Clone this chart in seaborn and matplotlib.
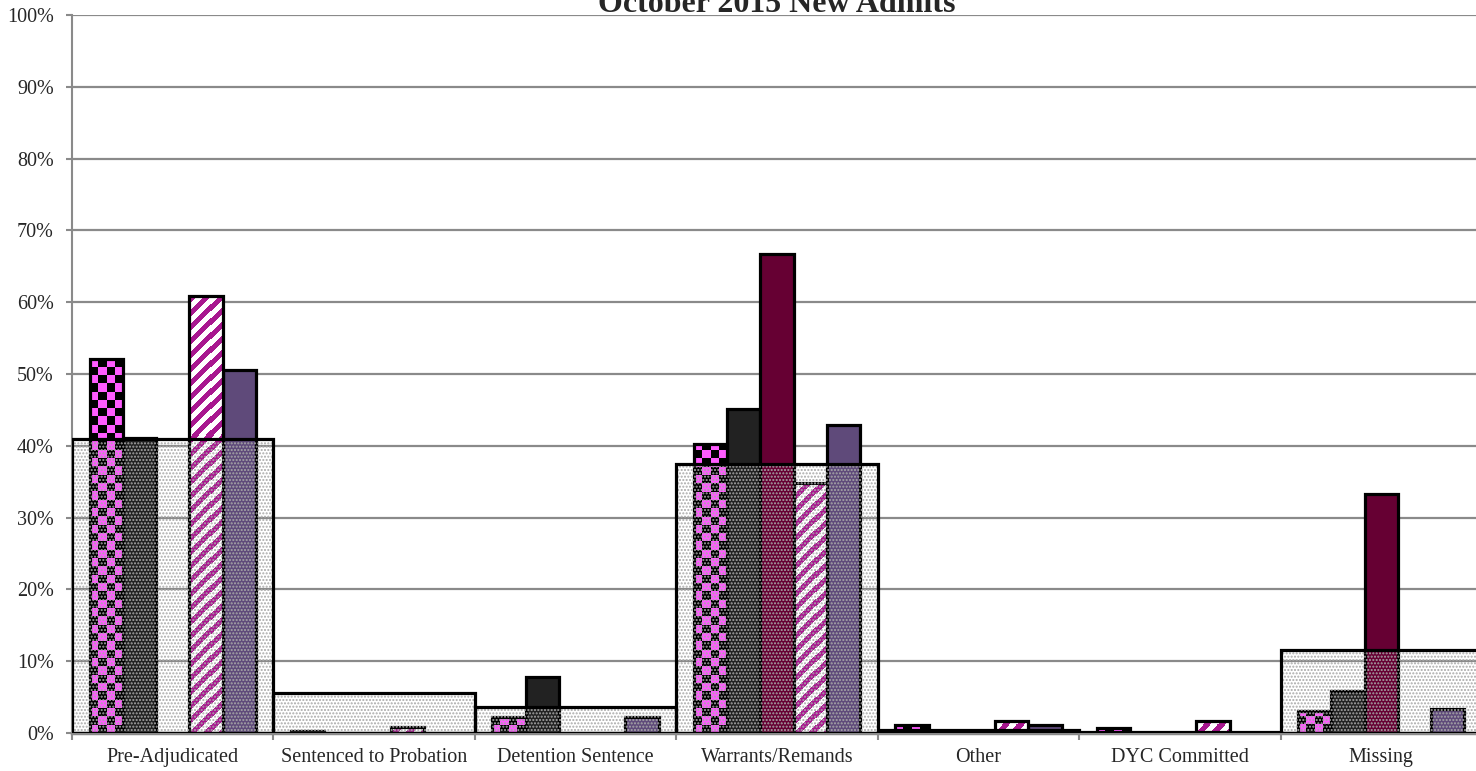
import numpy as np
import pandas as pd
import matplotlib
matplotlib.use("Agg")
import matplotlib.pyplot as plt
from matplotlib.colors import ListedColormap
import seaborn as sns

# data (percent of new admits)
categories = ["Pre-Adjudicated", "Sentenced to Probation", "Detention Sentence",
              "Warrants/Remands", "Other", "DYC Committed", "Missing"]
total = [41.0, 5.6, 3.6, 37.4, 0.4, 0.2, 11.6]
series_names = ["Group 1", "Group 2", "Group 3", "Group 4", "Group 5"]
group1 = [52.1, 0.3, 2.2, 40.3, 1.1, 0.7, 3.1]
group2 = [41.1, 0.0, 7.8, 45.1, 0.0, 0.0, 5.9]
group3 = [0.0, 0.0, 0.0, 66.7, 0.0, 0.0, 33.3]
group4 = [60.9, 0.9, 0.0, 34.8, 1.7, 1.7, 0.0]
group5 = [50.6, 0.0, 2.2, 42.9, 1.1, 0.0, 3.3]

sns.set_style("white")
plt.rcParams["font.family"] = ["Liberation Serif", "DejaVu Serif"]

df = pd.DataFrame({
    "category": categories * 5,
    "series": np.repeat(series_names, len(categories)),
    "value": group1 + group2 + group3 + group4 + group5,
})

fig = plt.figure(figsize=(14.76, 7.71), dpi=100)
ax = fig.add_axes([72 / 1476, 38 / 771, 1410 / 1476, 718 / 771])

palette = ["#ff5cff", "#222222", "#660033", "#ffffff", "#5f4a7a"]
sns.barplot(data=df, x="category", y="value", hue="series", palette=palette,
            saturation=1, width=0.825, errorbar=None, edgecolor="black",
            linewidth=2.3, legend=False, ax=ax, zorder=2)
# total bars: dotted overlay + outline on top of the groups
sns.barplot(x=categories, y=total, width=1.0, color="#9a9a9a", saturation=1,
            errorbar=None, ax=ax, zorder=3)
sns.barplot(x=categories, y=total, width=1.0, color="black", saturation=1,
            errorbar=None, ax=ax, zorder=3.1)

ax.set_xlim(-0.5, len(categories) - 0.5)
ax.set_ylim(0, 100)

for cont in ax.containers[:5]:
    for p in cont:
        if p.get_height() <= 0:
            p.set_visible(False)

for p in ax.containers[5]:
    p.set_facecolor("none")
    p.set_edgecolor("#a8a8a8")
    p.set_linewidth(0)
    p.set_hatch(".....")
for p in ax.containers[6]:
    p.set_facecolor("none")
    p.set_edgecolor("black")
    p.set_linewidth(2.3)

px_x = ax.bbox.width / len(categories)
px_y = ax.bbox.height / 100.0

# checkerboard fill
checker_cmap = ListedColormap(["#ff5cff", "black"])
for p in ax.containers[0]:
    h = p.get_height()
    if h <= 0:
        continue
    x0, w = p.get_x(), p.get_width()
    wpx = w * px_x
    cols = max(1, int(round(wpx / 8.3)))
    sq = wpx / cols
    rows = int(np.ceil(h * px_y / sq))
    arr = np.indices((rows, cols)).sum(axis=0) % 2
    im = ax.imshow(arr, cmap=checker_cmap, vmin=0, vmax=1, origin="lower",
                   extent=[x0, x0 + w, 0, rows * sq / px_y], aspect="auto",
                   interpolation="nearest", zorder=2.05)
    im.set_clip_path(p)
    p.set_facecolor("none")
    p.set_zorder(2.2)

# diagonal stripe fill
stripe_cmap = ListedColormap(["white", "#a8178f"])
for p in ax.containers[3]:
    h = p.get_height()
    if h <= 0:
        continue
    x0, w = p.get_x(), p.get_width()
    cols = int(np.ceil(w * px_x))
    rows = int(np.ceil(h * px_y))
    r, c = np.indices((rows, cols))
    arr = (((c - r) % 14) < 7).astype(int)
    im = ax.imshow(arr, cmap=stripe_cmap, vmin=0, vmax=1, origin="lower",
                   extent=[x0, x0 + cols / px_x, 0, rows / px_y], aspect="auto",
                   interpolation="nearest", zorder=2.05)
    im.set_clip_path(p)
    p.set_facecolor("none")
    p.set_zorder(2.2)

ax.set_xlim(-0.5, len(categories) - 0.5)
ax.set_ylim(0, 100)

ax.set_yticks(range(0, 101, 10))
ax.set_yticklabels([f"{v}%" for v in range(0, 101, 10)])
ax.set_xticks(range(len(categories)))
ax.set_xticklabels(categories)
ax.set_xticks(np.arange(-0.5, len(categories), 1.0), minor=True)
ax.tick_params(axis="y", length=4, width=1.5, color="#8a8a8a", pad=9,
               labelsize=14.5, left=True)
ax.tick_params(axis="x", which="major", length=0, pad=11, labelsize=14.5)
ax.tick_params(axis="x", which="minor", length=5, width=1.5, color="#8a8a8a",
               bottom=True)
ax.set_xlabel("")
ax.set_ylabel("")

ax.yaxis.grid(True, color="#8a8a8a", linewidth=1.6)
ax.set_axisbelow(True)
for s in ["top", "right"]:
    ax.spines[s].set_visible(False)
ax.spines["left"].set_color("#8a8a8a")
ax.spines["left"].set_linewidth(1.5)
ax.spines["bottom"].set_color("#8a8a8a")
ax.spines["bottom"].set_linewidth(2.5)

pos = ax.get_position()
fig.text(pos.x0 + pos.width / 2, 1 - 12 / 771, "October 2015 New Admits",
         ha="center", va="baseline", fontsize=23, fontweight="bold")

fig.savefig("out.png", dpi=100)
